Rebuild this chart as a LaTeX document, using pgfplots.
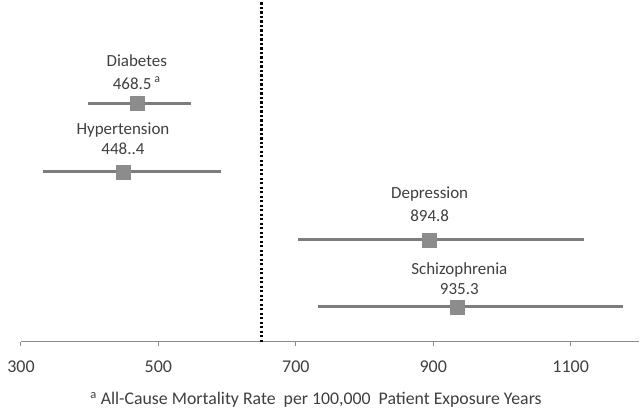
\documentclass[border=0pt]{standalone}
\usepackage{pgfplots}
\pgfplotsset{compat=1.18}
\usepackage{pgfplotstable}
\usepackage{fontspec}
\setmainfont{Carlito}
\definecolor{txt}{HTML}{3F3F3F}
\definecolor{bar}{HTML}{7D7D7D}
\definecolor{sq}{HTML}{8C8C8C}
\definecolor{axisc}{HTML}{8A8A8A}
\pgfplotstableread{
x y em ep
468.5 239 70.5 78.5
448.4 170 116.4 142.6
894.8 102 191.8 224.2
935.3 35 203.3 240.7
}\data
\begin{document}
\begin{tikzpicture}
\begin{axis}[
  scale only axis,
  width=619bp, height=341bp,
  xmin=300, xmax=1200, ymin=0, ymax=341,
  axis x line=bottom, axis y line=none,
  axis line style={-, axisc, line width=1.3bp},
  xtick={300,500,700,900,1100},
  tick align=outside,
  major tick length=4bp,
  tick style={axisc, line width=1bp},
  /pgf/number format/assume math mode=true,
  /pgf/number format/1000 sep={},
  ticklabel style={font=\fontsize{18bp}{21bp}\selectfont, text=txt},
  xticklabel style={yshift=-12bp},
  xlabel={\textsuperscript{a} All-Cause Mortality Rate\ \ per 100,000\ \ Patient Exposure Years},
  xlabel style={at={(axis description cs:0.477,0)}, anchor=center, yshift=-58bp, font=\fontsize{17.8bp}{21bp}\selectfont, text=txt},
  clip=false,
]
\addplot[black, line width=2.3bp, dash pattern=on 2.3bp off 2.2bp] coordinates {(650,0) (650,341)};
\addplot[only marks, mark=square*, mark size=7bp, mark options={fill=sq, draw=sq},
  error bars/.cd, x dir=both, x explicit, error mark=none,
  error bar style={line width=3bp, bar}]
  table[x=x, y=y, x error plus=ep, x error minus=em] {\data};
\begin{scope}[every node/.style={font=\fontsize{17bp}{20bp}\selectfont, text=txt}]
\node at (axis cs:468.5,281) {Diabetes};
\node at (axis cs:468.5,259) {468.5\,\textsuperscript{a}};
\node at (axis cs:448.4,212) {Hypertension};
\node at (axis cs:448.4,193) {448..4};
\node at (axis cs:894.8,148) {Depression};
\node at (axis cs:894.8,126) {894.8};
\node at (axis cs:938,72) {Schizophrenia};
\node at (axis cs:938,53) {935.3};
\end{scope}
\end{axis}
\useasboundingbox (-21bp,-72bp) rectangle (619bp,341bp);
\end{tikzpicture}
\end{document}
